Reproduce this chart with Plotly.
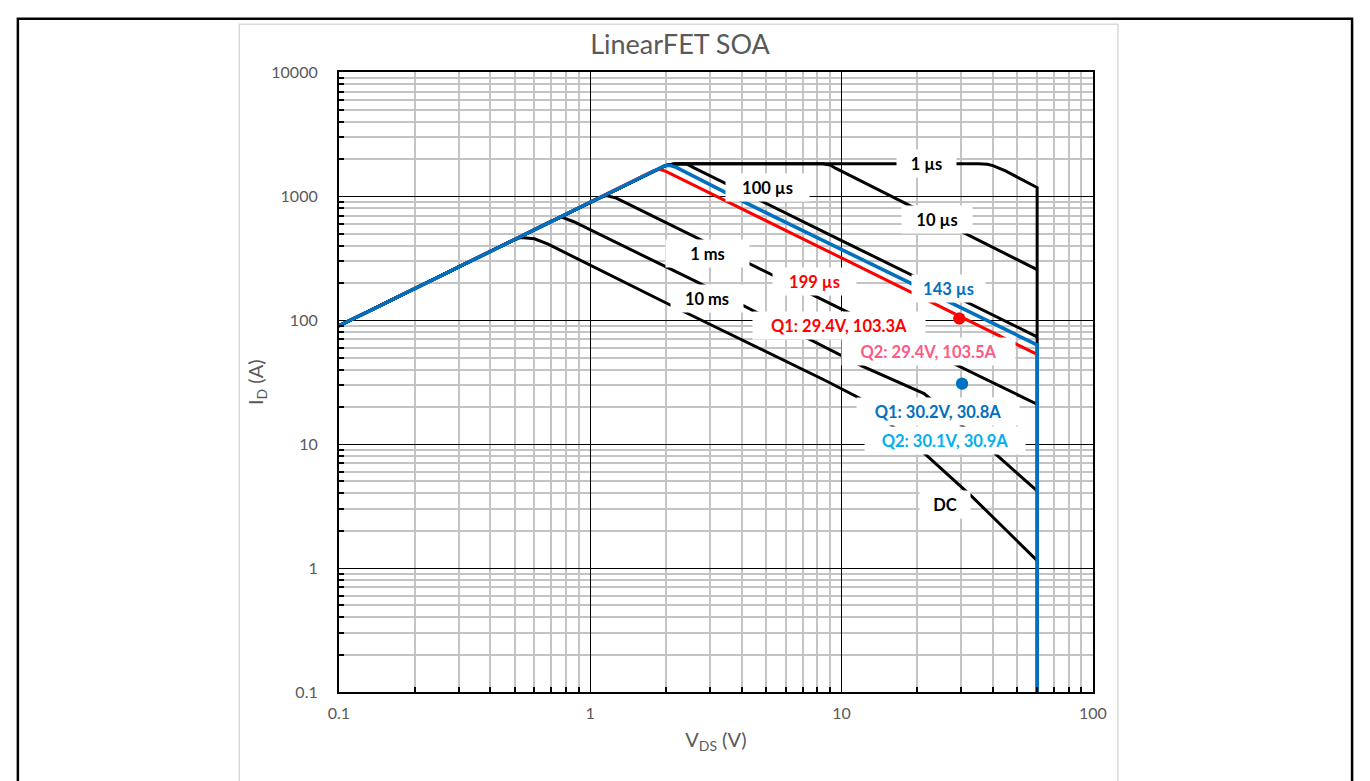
import math
import plotly.graph_objects as go

# ---------------- data ----------------
x_tick_vals = [0.1, 1, 10, 100]
x_tick_text = ["0.1", "1", "10", "100"]
y_tick_vals = [0.1, 1, 10, 100, 1000, 10000]
y_tick_text = ["0.1", "1", "10", "100", "1000", "10000"]

v_1us = [0.1, 1.85, 2.0, 2.15, 2.35, 35, 38, 40, 44.9, 60, 60]
i_1us = [90, 1665, 1780, 1822, 1830, 1830, 1818, 1770, 1603, 1178, 0.1]

v_10us = [0.1, 1.85, 2.0, 2.15, 2.35, 8.4, 9.0, 9.5, 60]
i_10us = [90, 1665, 1780, 1822, 1830, 1830, 1790, 1680, 256]

v_100us = [0.1, 1.85, 2.0, 2.15, 2.3, 2.45, 2.6, 10, 31.3, 60]
i_100us = [90, 1665, 1780, 1822, 1830, 1805, 1692, 440, 140, 73.5]

v_1ms = [0.1, 1.07, 1.16, 1.27, 1.40, 9.9, 60]
i_1ms = [90, 963, 1015, 968, 879, 124, 21]

v_10ms = [0.1, 0.70, 0.77, 0.86, 2.62, 10.5, 12.08, 21.3, 41.8, 60]
i_10ms = [90, 630, 680, 624, 206.6, 49.3, 42.7, 25.6, 8.05, 4.19]

v_dc = [0.1, 0.47, 0.53, 0.60, 0.68, 2.11, 8.66, 11.86, 21.9, 29.7, 32.8, 60]
i_dc = [90, 423, 466, 455, 411, 131, 32.5, 23.4, 8.05, 4.58, 3.83, 1.15]

v_199us = [0.1, 1.78, 1.88, 2.0, 10.37, 60]
i_199us = [90, 1602, 1660, 1590, 307, 53]

v_143us = [0.1, 1.85, 1.97, 2.07, 2.2, 4.09, 18.9, 60, 60]
i_143us = [90, 1665, 1760, 1780, 1715, 902, 199, 63.2, 0.1]

q_names = ["Q2 (199 µs)", "Q1 (199 µs)", "Q2 (143 µs)", "Q1 (143 µs)"]
q_vds = [29.4, 29.4, 30.1, 30.2]
q_id = [103.5, 103.3, 30.9, 30.8]
q_colors = ["#FF5A82", "#FF0000", "#00B0F0", "#0070C0"]

label_text = ["1 µs", "100 µs", "10 µs", "1 ms", "10 ms", "199 µs", "143 µs",
              "Q1: 29.4V, 103.3A", "Q2: 29.4V, 103.5A",
              "Q1: 30.2V, 30.8A", "Q2: 30.1V, 30.9A", "DC"]
label_v = [21.7, 5.09, 23.9, 2.94, 2.92, 7.78, 26.7, 9.73, 22.1, 24.1, 25.9, 25.7]
label_i = [1853, 1177, 647, 349, 149, 206, 182, 91.4, 56.0, 18.5, 10.7, 3.25]
label_color = ["#000000", "#000000", "#000000", "#000000", "#000000", "#FF0000",
               "#0070C0", "#FF0000", "#FF5A82", "#0070C0", "#00B0F0", "#000000"]
label_boxw = [59, 83, 70, 83, 72, 83, 73, 172, 173, 162, 160, 50]

# ---------------- figure geometry (figure fills the 1370x781 viewport) ----
W, H = 1370, 781


def px(p):
    return p / W


def py(p):
    return 1 - p / H


BLUE = "#0070C0"
GRAY_TXT = "#595959"

fig = go.Figure()

black_series = [(v_1us, i_1us, "1 µs"), (v_10us, i_10us, "10 µs"),
                (v_100us, i_100us, "100 µs"), (v_1ms, i_1ms, "1 ms"),
                (v_10ms, i_10ms, "10 ms"), (v_dc, i_dc, "DC")]
for vv, ii, nm in black_series:
    fig.add_trace(go.Scatter(x=vv, y=ii, mode="lines", name=nm,
                             line=dict(color="black", width=3)))

fig.add_trace(go.Scatter(x=v_199us, y=i_199us, mode="lines", name="199 µs",
                         line=dict(color="#FF0000", width=3)))
fig.add_trace(go.Scatter(x=v_143us, y=i_143us, mode="lines", name="143 µs",
                         line=dict(color=BLUE, width=3.6)))

for nm, vx, iy, c in zip(q_names, q_vds, q_id, q_colors):
    fig.add_trace(go.Scatter(x=[vx], y=[iy], mode="markers", name=nm,
                             marker=dict(color=c, size=12)))

annotations = []
for t, v, i, c, bw in zip(label_text, label_v, label_i, label_color, label_boxw):
    annotations.append(dict(
        x=math.log10(v), y=math.log10(i), xref="x", yref="y",
        text=t, showarrow=False, xanchor="center", yanchor="middle",
        bgcolor="white", borderpad=0, width=bw, height=27, align="center",
        font=dict(family="Lato", size=16.5, color=c, weight="bold")))

minor_x = [m * 10 ** e for e in (-1, 0, 1) for m in range(2, 10)]
minor_y = [m * 10 ** e for e in (-1, 0, 1, 2, 3) for m in range(2, 10)]

axis_common = dict(
    type="log", showgrid=True, gridcolor="black", gridwidth=1.2,
    showline=True, linecolor="black", linewidth=2, mirror=True,
    ticks="", zeroline=False, tickmode="array",
    tickfont=dict(family="Lato", size=16, color=GRAY_TXT),
)

fig.update_layout(
    autosize=True,
    margin=dict(l=0, r=0, t=0, b=0),
    paper_bgcolor="white", plot_bgcolor="white",
    showlegend=False,
    font=dict(family="Lato", color=GRAY_TXT),
    title=dict(text="LinearFET SOA", x=px(680), y=py(45),
               xanchor="center", yanchor="middle",
               font=dict(family="Lato", size=27, color=GRAY_TXT)),
    xaxis=dict(**axis_common, range=[-1, 2],
               domain=[px(334), px(1102)],
               tickvals=x_tick_vals, ticktext=x_tick_text,
               ticklabelstandoff=6,
               minor=dict(tickmode="array", tickvals=minor_x, ticks="inside",
                          ticklen=5, tickwidth=1.5, tickcolor="black",
                          showgrid=True, gridcolor="#C4C4C4", gridwidth=1.5),
               title=dict(text="V<sub>DS</sub> (V)", standoff=12,
                          font=dict(family="Lato", size=20, color=GRAY_TXT))),
    yaxis=dict(**axis_common, range=[-1, 4],
               domain=[py(699), py(64)],
               tickvals=y_tick_vals, ticktext=y_tick_text,
               ticklabelstandoff=16,
               minor=dict(tickmode="array", tickvals=minor_y, ticks="inside",
                          ticklen=5, tickwidth=1.5, tickcolor="black",
                          showgrid=True, gridcolor="#C4C4C4", gridwidth=1.5),
               title=dict(text="I<sub>D</sub> (A)", standoff=2,
                          font=dict(family="Lato", size=20, color=GRAY_TXT))),
    annotations=annotations,
    shapes=[
        dict(type="rect", xref="paper", yref="paper", layer="below",
             x0=px(232.5), x1=px(1127.5), y0=-0.05, y1=py(14.5),
             line=dict(color="#D9D9D9", width=1.5), fillcolor="rgba(0,0,0,0)"),
        dict(type="rect", xref="paper", yref="paper", layer="above",
             x0=px(7), x1=px(1366), y0=-0.05, y1=py(9),
             line=dict(color="black", width=2.5), fillcolor="rgba(0,0,0,0)"),
    ],
)

fig.write_html("out.html", default_width="100vw", default_height="100vh",
               config={"responsive": True, "displayModeBar": False})
